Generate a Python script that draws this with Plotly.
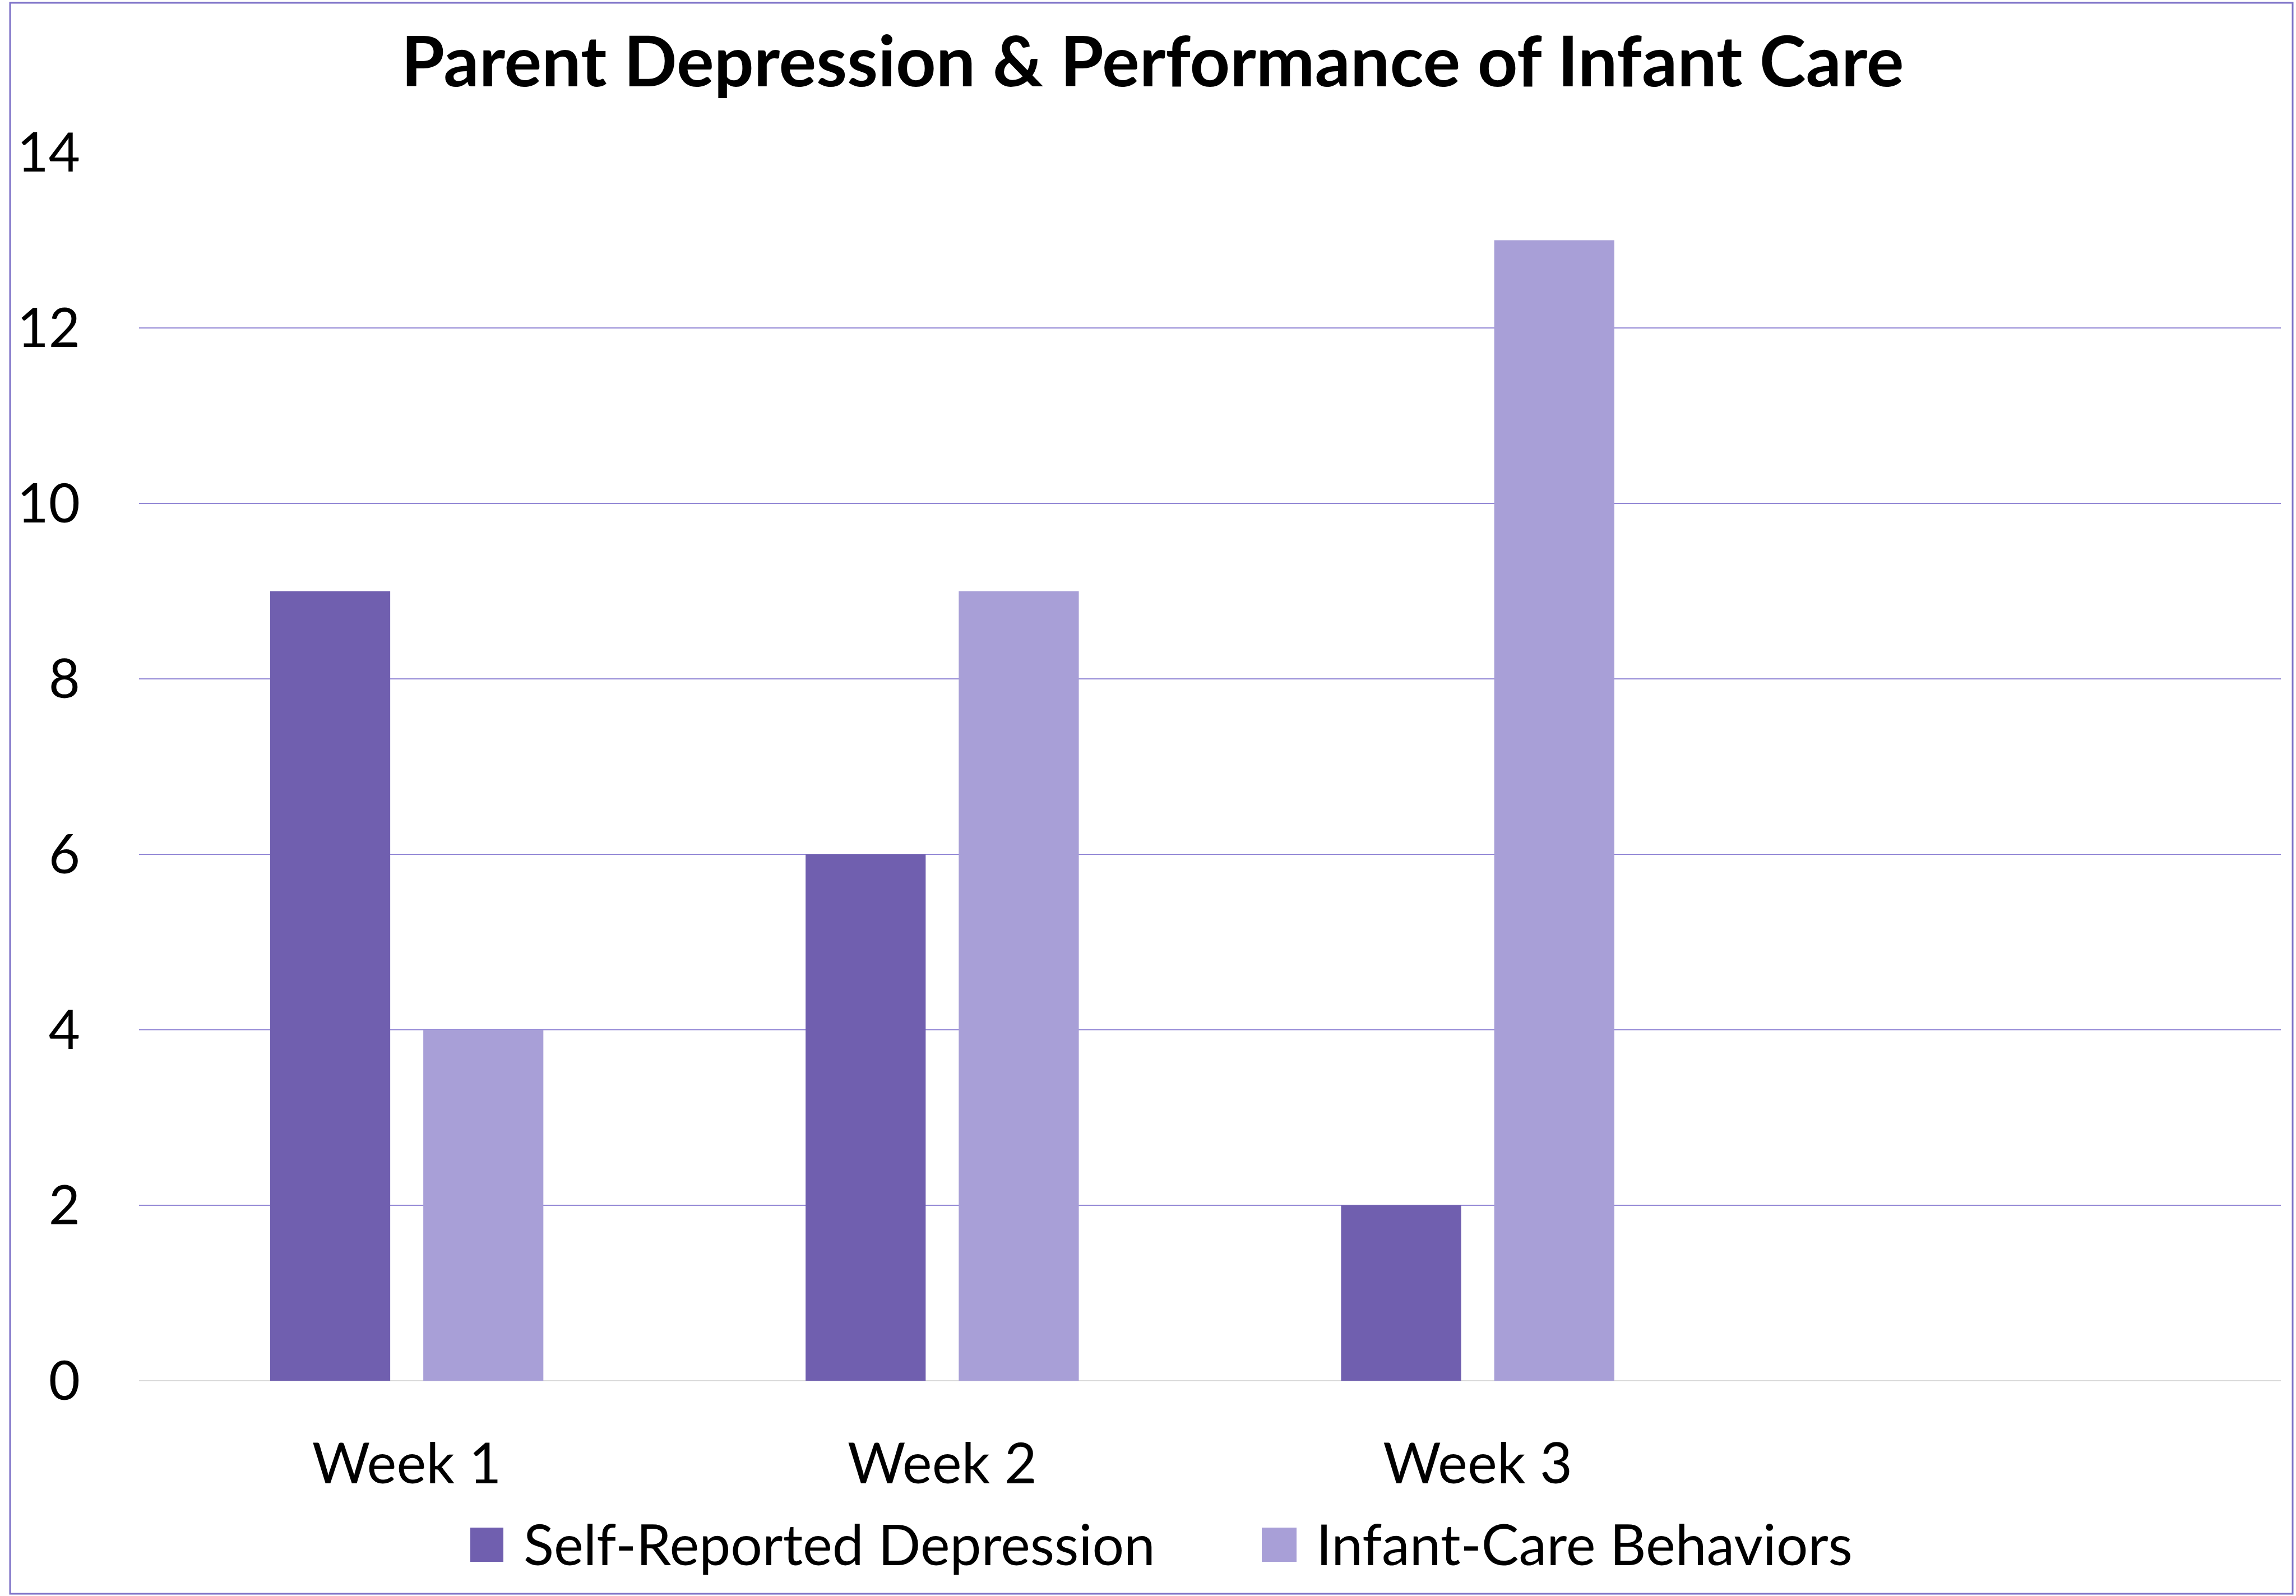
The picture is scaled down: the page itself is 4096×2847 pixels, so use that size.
import plotly.graph_objects as go

categories = ["Week 1", "Week 2", "Week 3"]
series_names = ["Self-Reported Depression", "Infant-Care Behaviors"]
depression = [9, 6, 2]
infant_care = [4, 9, 13]
y_ticks = [0, 2, 4, 6, 8, 10, 12, 14]

colors = ["#705FAF", "#A89FD7"]
W, H = 4096, 2847
L, R, T, B = 248, 4069, 272, 2463
FONT = "Lato"

def px_x(x):
    return (x - L) / (R - L)

def px_y(y):
    return (B - y) / (B - T)

fig = go.Figure()
for name, vals, c in zip(series_names, [depression, infant_care], colors):
    fig.add_trace(go.Bar(x=categories, y=vals, name=name, marker=dict(color=c, line=dict(width=0)),
                         showlegend=False))

fig.update_layout(
    width=W, height=H,
    margin=dict(l=L, r=W - R, t=T, b=H - B, autoexpand=False),
    paper_bgcolor="white", plot_bgcolor="white",
    barmode="group", bargap=0.428, bargroupgap=0.216,
    title=dict(text="<b>Parent Depression &amp; Performance of Infant Care</b>",
               font=dict(family=FONT, size=125, color="black"),
               x=0.502, xref="container", xanchor="center",
               y=1 - 110 / H, yref="container", yanchor="middle"),
    font=dict(family=FONT, color="black"),
)
fig.update_xaxes(type="category", range=[-0.5, 3.5], showgrid=False, showline=False,
                 zeroline=False, tickfont=dict(family=FONT, size=100, color="black"),
                 ticks="", ticklabelstandoff=82)
fig.update_yaxes(range=[0, 14], tickvals=y_ticks, showgrid=True, gridcolor="#9489D6", gridwidth=2,
                 zeroline=True, zerolinecolor="#D9D9D9", zerolinewidth=2, showline=False,
                 tickfont=dict(family=FONT, size=97, color="black"), ticks="",
                 ticklabelstandoff=104)

# legend (manual, to get large keys)
legend_items = [(839, 898, 932), (2251, 2313, 2346)]
for (x0, x1, tx), name, c in zip(legend_items, series_names, colors):
    fig.add_shape(type="rect", xref="paper", yref="paper", x0=px_x(x0), x1=px_x(x1),
                  y0=px_y(2786), y1=px_y(2725), fillcolor=c, line=dict(width=0))
    fig.add_annotation(xref="paper", yref="paper", x=px_x(tx), y=px_y(2753), text=name,
                       showarrow=False, xanchor="left", yanchor="middle",
                       font=dict(family=FONT, size=100, color="black"))

# chart border
fig.add_shape(type="rect", xref="paper", yref="paper", x0=px_x(18), x1=px_x(4090),
              y0=px_y(2843), y1=px_y(5), line=dict(color="#7E72C8", width=3),
              fillcolor="rgba(0,0,0,0)", layer="above")

fig.write_html("out.html")
